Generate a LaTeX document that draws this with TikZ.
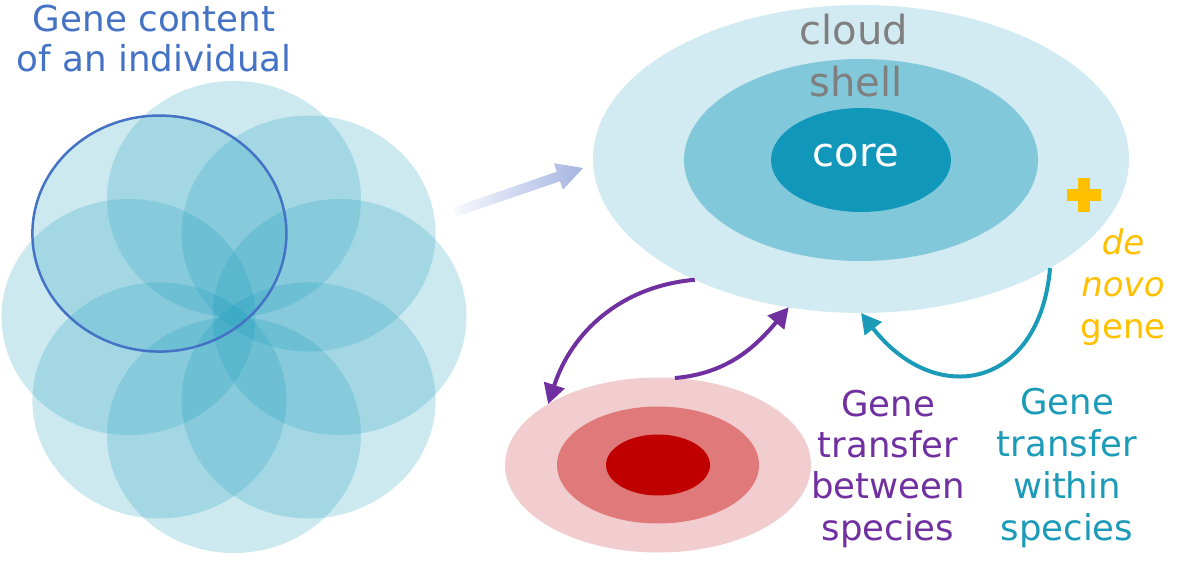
\documentclass[tikz,border=0pt]{standalone}
\usepackage{fontspec}
\setmainfont{DejaVu Sans}
\usepackage{tikz}
\usetikzlibrary{arrows.meta,shapes.geometric,calc}
\usepackage{xcolor}
\definecolor{petalblue}{RGB}{17,151,185}
\definecolor{individual}{RGB}{68,114,196}
\definecolor{cloudfill}{RGB}{210,234,241}
\definecolor{shellfill}{RGB}{130,200,219}
\definecolor{corefill}{RGB}{17,151,185}
\definecolor{labelgrey}{RGB}{127,127,127}
\definecolor{spreadblue}{RGB}{165,180,225}
\definecolor{denovo}{RGB}{255,192,0}
\definecolor{between}{RGB}{112,48,160}
\definecolor{within}{RGB}{27,155,184}
\definecolor{otherout}{RGB}{242,205,207}
\definecolor{othermid}{RGB}{224,122,122}
\definecolor{otherin}{RGB}{192,0,0}

\begin{document}
\begin{tikzpicture}
    [   x=1pt
    ,   y=1pt
    ,   petal/.style=
        {   fill=petalblue
        ,   fill opacity=0.21
        }
    ,   pan/.style=
        {   ellipse
        ,   inner sep=0pt
        ,   outer sep=0pt
        }
    ,   lbl/.style=
        {   inner sep=0pt
        ,   anchor=base
        ,   align=center
        }
    ,   transfer/.style=
        {   line width=4pt
        ,   -{Triangle[length=20pt,width=21pt]}
        }
    ]
    \useasboundingbox (0,0) rectangle (1183,563);

    % gene content of individuals
    \coordinate (flower) at (234,246);
    \foreach\a in {0,45,...,315}
    {   \fill[petal] ($(flower)+(\a:105.5 and 118)$)
            ellipse [x radius=127, y radius=118];
    }
    \draw[individual, line width=2.5pt]
        ($(flower)+(135:105.5 and 118)$) ellipse [x radius=127, y radius=118];
    \node[lbl, individual, font=\fontsize{35.7}{40}\selectfont] (title) at (154,491)
        {Gene content\\of an individual};

    % pangenome of the species
    \node[pan, fill=cloudfill, minimum width=536, minimum height=308] (cloud) at (861,404) {};
    \node[pan, fill=shellfill, minimum width=354, minimum height=202] (shell) at (861,403) {};
    \node[pan, fill=corefill, minimum width=180, minimum height=104] (core) at (861,403) {};
    \node[lbl, labelgrey, font=\fontsize{40}{48}\selectfont] (cloudlbl) at (854,518) {cloud};
    \node[lbl, labelgrey, font=\fontsize{40}{48}\selectfont] (shelllbl) at (856,466) {shell};
    \node[lbl, white, font=\fontsize{40}{48}\selectfont] (corelbl) at (856,396) {core};

    % other species
    \node[pan, fill=otherout, minimum width=306, minimum height=175] (other) at (658,98) {};
    \node[pan, fill=othermid, minimum width=202, minimum height=117] (othermid) at (658,98) {};
    \node[pan, fill=otherin, minimum width=104, minimum height=61] (otherin) at (658,98) {};

    \shade[left color=spreadblue!8, right color=spreadblue]
        (453.4,355.7) -- (556.8,391.3) -- (553.8,399.8) -- (583,395)
        -- (563,373.3) -- (560,381.8) -- (456.6,346.3) -- cycle;

    % de novo
    \fill[denovo] (1078,351) rectangle (1090,385);
    \fill[denovo] (1067,362) rectangle (1101,374);
    \node[lbl, denovo, font=\fontsize{34}{42}\selectfont] (denovo) at (1123,225)
        {\textit{de}\\\textit{novo}\\gene};

    % transfers
    \draw[transfer, between]
    (cloud.-144.6)
        to [out=185,in=72]
    (other.151);
    \draw[transfer, between]
    (other.79.8)
        to [out=5,in=230]
    (cloud.-116.7);
    \draw[transfer, within]
    (cloud.-30.6)
        to [out=-95,in=-52,looseness=1.6]
    (cloud.-90);
    \node[lbl, between, font=\fontsize{35.5}{41.3}\selectfont] (betweenlbl) at (888,23)
        {Gene\\transfer\\between\\species};
    \node[lbl, within, font=\fontsize{35.5}{42}\selectfont] (withinlbl) at (1067,23)
        {Gene\\transfer\\within\\species};
\end{tikzpicture}
\end{document}
